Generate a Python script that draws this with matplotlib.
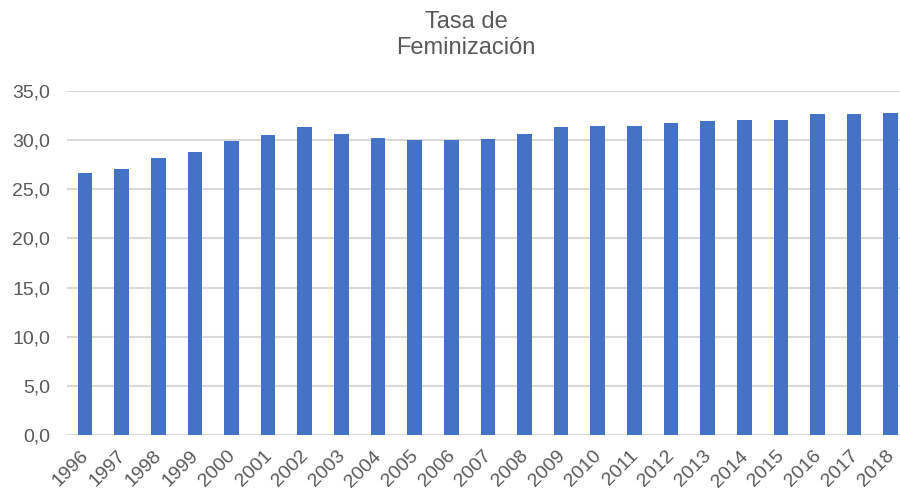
import matplotlib
matplotlib.use("Agg")
import matplotlib.pyplot as plt
import matplotlib.transforms as mtransforms
from matplotlib.ticker import FuncFormatter

years = [str(y) for y in range(1996, 2019)]
values = [26.7, 27.1, 28.2, 28.8, 29.9, 30.5, 31.3, 30.6, 30.2, 30.0, 30.0,
          30.1, 30.6, 31.3, 31.4, 31.4, 31.7, 31.9, 32.0, 32.1, 32.7, 32.7, 32.8]
title = "Tasa de\nFeminización"

plt.rcParams['font.family'] = ['Liberation Sans', 'DejaVu Sans']
txt = '#595959'
fig = plt.figure(figsize=(9, 4.93), dpi=100)
ax = fig.add_axes([0.0741, 0.1176, 0.936, 0.6978])
x = range(len(years))
ax.bar(x, values, width=0.4, color='#4472C4', zorder=3)
ax.set_xlim(-0.5, len(years) - 0.5)
ax.set_ylim(0, 35)
ax.set_yticks([0, 5, 10, 15, 20, 25, 30, 35])
ax.yaxis.set_major_formatter(FuncFormatter(lambda v, p: f"{v:.1f}".replace('.', ',')))
ax.grid(axis='y', color='#d9d9d9', linewidth=1.5, zorder=0)
for s in ax.spines.values():
    s.set_visible(False)
ax.tick_params(axis='both', length=0, labelsize=14, colors=txt)
ax.tick_params(axis='y', pad=12)
ax.set_xticks(list(x))
ax.set_xticklabels(years, rotation=45, ha='right', rotation_mode='anchor')
ax.tick_params(axis='x', pad=9)
offset = mtransforms.ScaledTranslation(-5 / 100, 0, fig.dpi_scale_trans)
for lbl in ax.get_xticklabels():
    lbl.set_transform(lbl.get_transform() + offset)
fig.text(0.518, 0.978, title, ha='center', va='top', fontsize=17, color=txt, linespacing=1.22)
fig.savefig('out.png', dpi=100)
